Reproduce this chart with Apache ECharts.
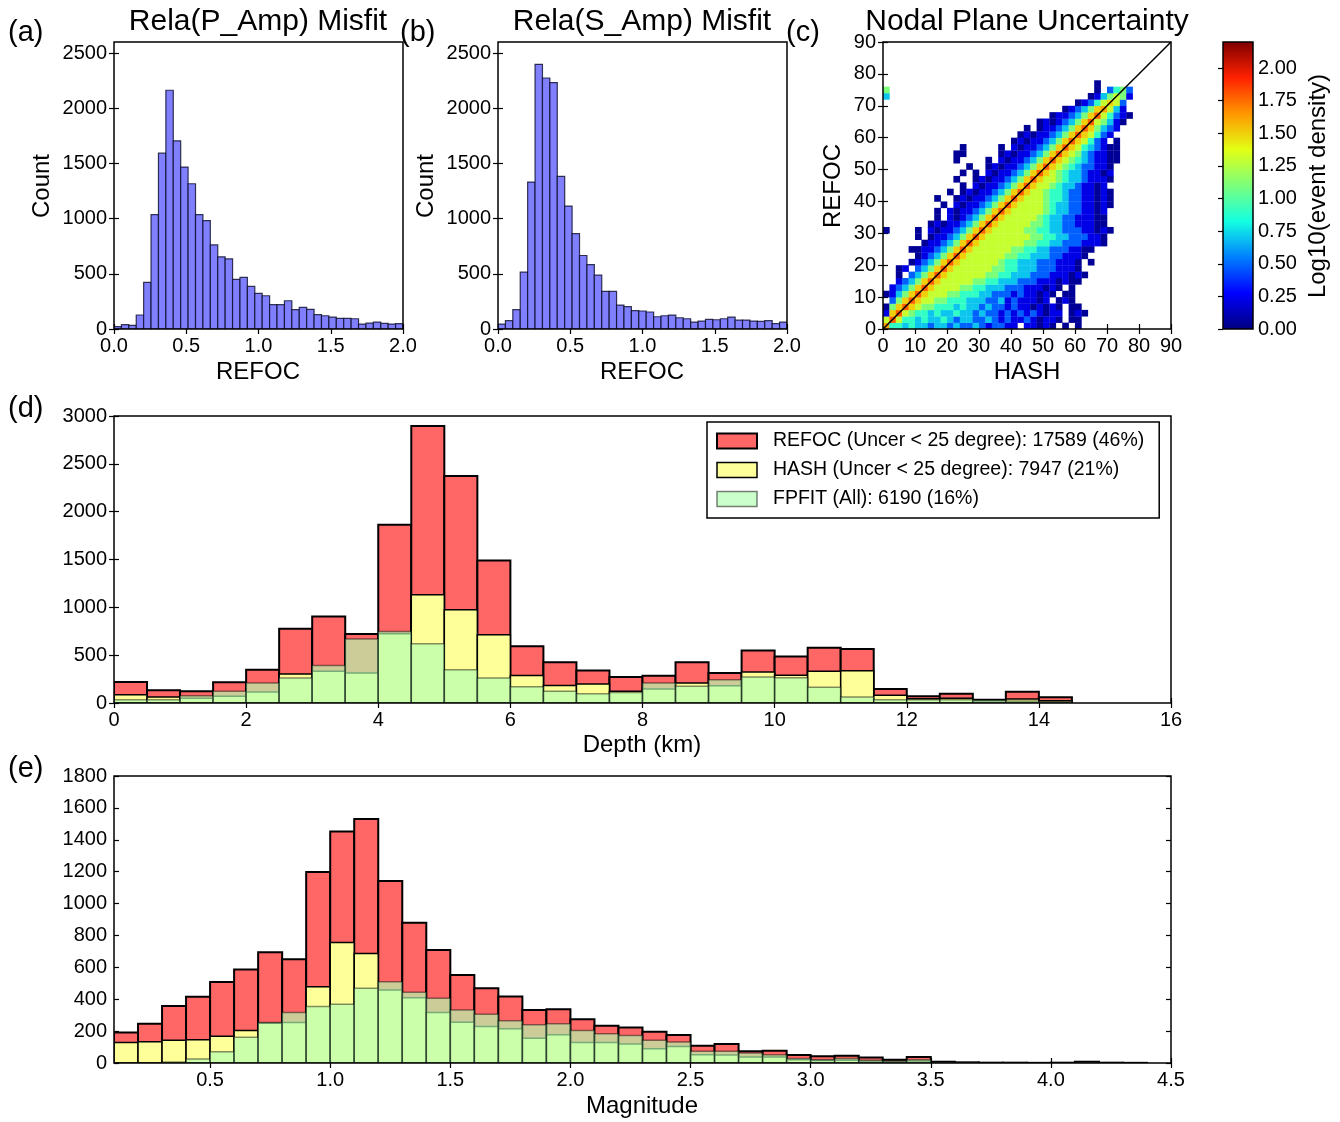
<!DOCTYPE html>
<html><head><meta charset="utf-8">
<script src="https://cdn.jsdelivr.net/npm/echarts@6/dist/echarts.min.js"></script>
<style>html,body{margin:0;padding:0;background:#fff}#c{width:1340px;height:1122px}</style>
</head><body><div id="c"></div>
<script>
// ================= DATA =================
// (a) Rela(P_Amp) Misfit histogram, REFOC, 39 bins over [0, 2]
const pAmpRange = [0, 2.0];
const pAmpCounts = [21,39,33,127,422,1036,1593,2163,1705,1467,1316,1036,982,762,654,636,449,467,386,322,301,220,220,256,175,196,178,130,120,108,96,96,93,45,54,63,51,45,48];
// (b) Rela(S_Amp) Misfit histogram
const sAmpRange = [0, 2.0];
const sAmpCounts = [45,75,175,515,1331,2398,2274,2232,1382,1114,864,666,584,488,340,340,217,202,166,163,154,111,120,126,102,93,63,72,87,84,93,108,81,81,72,69,75,48,63];
const histXTicks = [0, 0.5, 1.0, 1.5, 2.0];
const histYTicks = [0, 500, 1000, 1500, 2000, 2500];
const histYMax = 2600;

// (c) Nodal plane uncertainty density (2-degree cells). Row = REFOC bin, char = HASH bin (spaces ignored),
// digit = index into densityLevels (log10 event density), '.' = empty
const densityCell = 2;
const densityLevels = [0.05, 0.22, 0.48, 0.7, 0.9, 1.1, 1.3, 1.5, 1.62, 1.78];
const densityRows = [
 "84434 33233 23223 21221 1.110 10.0. 0",
 "6 96443 43343 23322 32121 12101 10.00",
 "17 96544 34334 33232 21212 12101 1.010",
 "057 97655 44434 33232 21211 01010 .00",
 ".257 97665 54443 33223 12111 01.01 0",
 "01357 97666 55444 33222 12110 10.00",
 ".1235 7 97666 65544 33322 21110 10.0",
 "..123 57 97666 66554 43332 22111 0100",
 "..0.2 357 97666 66655 44333 22211 1010",
 "..01. 2357 97666 66655 44333 22211 10",
 "....0 12357 97666 66654 43332 22111 0.0",
 "..... 01235 7 97666 66655 44333 22111 0",
 "....0 01123 57 97666 66655 44332 22110 0",
 "..... .0112 357 97666 66665 54433 22211 10",
 "..... 0.011 2357 97666 66665 54433 2221 10",
 "0.... 0.101 12357 97666 66554 43322 21101 0",
 "..... ..010 11235 7 97666 66554 33221 1100",
 "..... ...0. 10123 57 97666 66543 32211 100",
 "..... ...0. 10112 357 97666 66543 32211 01",
 "..... ....0 .1011 2357 97666 65433 22110 10",
 "..... ...0. .0101 12357 97666 54432 21101 0",
 "..... ..... 0.010 11235 7 97665 44322 11010",
 "..... ..... ..0.1 01123 57 97665 43321 101",
 "..... ..... .0..0 10112 357 97665 43321 110",
 "..... ..... ..0.0 .1011 2357 97654 33211 01",
 "..... ..... ...0. .0101 12357 97654 32211 0",
 "..... ..... .0... .0.10 11235 7 97654 32110 0",
 "..... ..... .00.. ...01 01123 57 97653 2110 0",
 "..... ..... ..0.. ...0. 10112 357 97643 2100",
 "..... ..... ..... ..... 01011 2357 97642 1.0",
 "..... ..... ..... ..... .0101 12357 97642 1",
 "..... ..... ..... ..... ..0.0 11235 7 97532 1",
 "..... ..... ..... ..... ....0 10123 57 96531 0",
 "..... ..... ..... ..... ..... .0112 357 96421 0",
 "..... ..... ..... ..... ..... ...01 2357 8631",
 "..... ..... ..... ..... ..... ..... 01246 762",
 "3.... ..... ..... ..... ..... ..... ..013 5 651",
 "5.... ..... ..... ..... ..... ..... ...0. 24 52",
 "..... ..... ..... ..... ..... ..... ...0."
];
const diagLine = [[0, 0], [90, 90]];
const uncTicks = [0, 10, 20, 30, 40, 50, 60, 70, 80, 90];
const colorbarMax = 2.2;
const cbTicks = [0, 0.25, 0.5, 0.75, 1.0, 1.25, 1.5, 1.75, 2.0];

// (d) Depth histograms, bins of 0.5 km starting at 0
const depthBinStart = 0, depthBinWidth = 0.5;
const depthRefoc = [219,132,122,216,348,776,905,720,1862,2895,2373,1489,592,425,341,271,285,425,313,550,487,578,564,146,70,97,35,118,59];
const depthHash  = [87,63,49,70,115,303,331,313,725,1131,974,713,287,184,198,122,146,209,181,324,289,331,338,80,45,49,20,42,24];
const depthFpfit = [35,35,77,122,209,261,393,668,748,619,348,261,170,122,97,111,209,174,244,271,264,164,63,35,35,35,30,21,14];
const depthXTicks = [0, 2, 4, 6, 8, 10, 12, 14, 16];
const depthYTicks = [0, 500, 1000, 1500, 2000, 2500, 3000];

// (e) Magnitude histograms, bins of 0.1 starting at 0.1
const magBinStart = 0.1, magBinWidth = 0.1;
const magRefoc = [192,246,358,415,508,587,694,650,1198,1452,1531,1141,879,708,552,469,417,333,337,275,233,223,196,175,108,119,73,77,50,42,46,35,21,37,8,4,2,2,1,2,8,2,1];
const magHash  = [129,133,142,146,167,204,250,254,479,756,687,458,410,317,256,229,215,156,177,129,129,119,90,104,52,50,37,37,20,15,17,10,6,12,3,1,1,0,0,0,2,0,0];
const magFpfit = [0,0,6,25,71,162,254,317,354,369,469,510,444,406,333,306,265,240,246,204,183,173,142,131,73,73,62,52,29,21,29,17,12,21,5,3,1,1,1,1,5,1,0];
const magXTicks = [0.5, 1.0, 1.5, 2.0, 2.5, 3.0, 3.5, 4.0, 4.5];
const magYTicks = [0, 200, 400, 600, 800, 1000, 1200, 1400, 1600, 1800];

const legendNames = ['REFOC (Uncer < 25 degree): 17589 (46%)', 'HASH (Uncer < 25 degree): 7947 (21%)', 'FPFIT (All): 6190 (16%)'];

// ================= STYLE / LAYOUT =================
const FONT = '"Liberation Sans", Arial, Helvetica, sans-serif';
const jetColors = ['#000080','#0000ff','#0080ff','#14ffe2','#7bff7b','#e2ff14','#ff9700','#ff2100','#800000'];
const redStyle = {fill:'#ff6666', stroke:'#000', lineWidth:2};
const yelStyle = {fill:'#ffff99', stroke:'#000', lineWidth:1.5};
const grnStyle = {fill:'rgba(178,255,178,0.67)', stroke:'rgba(0,0,0,0.45)', lineWidth:1.5};
const blueStyle = {fill:'#8080ff', stroke:'rgba(10,10,40,0.8)', lineWidth:1.2};

const grids = [
  {left:114, top:42, width:289, height:287},   // a
  {left:498, top:42, width:289, height:287},   // b
  {left:883, top:42, width:288, height:287},   // c
  {left:1223, top:42, width:30, height:287},   // colorbar
  {left:114, top:416, width:1057, height:287}, // d
  {left:114, top:776, width:1057, height:287}  // e
].map(g => Object.assign({show:true, borderColor:'#000', borderWidth:1.5, backgroundColor:'transparent', z:10, containLabel:false, outerBoundsMode:'none'}, g));

function axisPair(kind, grid, min, max, ticks, fmt) {
  const common = {type:'value', gridIndex:grid, min:min, max:max,
    splitLine:{show:false}, axisLine:{show:false},
    axisTick:{show:true, inside:true, length:5, customValues:ticks, lineStyle:{color:'#000', width:1.2}}};
  const a1 = Object.assign({}, common, {position: kind==='x'?'bottom':'left',
    axisLabel:{show:true, customValues:ticks, formatter:fmt, margin:7, color:'#000', fontSize:20, fontFamily:FONT}});
  const a2 = Object.assign({}, common, {position: kind==='x'?'top':'right', axisLabel:{show:false}});
  return [a1, a2];
}
const f1 = v => v.toFixed(1), f0 = v => String(Math.round(v)), f2 = v => v.toFixed(2);

const xAxes = [].concat(
  axisPair('x', 0, pAmpRange[0], pAmpRange[1], histXTicks, f1),
  axisPair('x', 1, sAmpRange[0], sAmpRange[1], histXTicks, f1),
  axisPair('x', 2, 0, 90, uncTicks, f0),
  [{type:'value', gridIndex:3, min:0, max:1, show:false}, {type:'value', gridIndex:3, min:0, max:1, show:false, position:'top'}],
  axisPair('x', 4, 0, 16, depthXTicks, f0),
  axisPair('x', 5, 0.1, 4.5, magXTicks, f1)
);
const cbRight = {type:'value', gridIndex:3, min:0, max:colorbarMax, position:'right', splitLine:{show:false}, axisLine:{show:false},
  axisTick:{show:true, inside:true, length:5, customValues:cbTicks, lineStyle:{color:'#000', width:1.2}},
  axisLabel:{show:true, customValues:cbTicks, formatter:f2, margin:5, color:'#000', fontSize:20, fontFamily:FONT}};
const yAxes = [].concat(
  axisPair('y', 0, 0, histYMax, histYTicks, f0),
  axisPair('y', 1, 0, histYMax, histYTicks, f0),
  axisPair('y', 2, 0, 90, uncTicks, f0),
  [{type:'value', gridIndex:3, min:0, max:colorbarMax, show:false}, cbRight],
  axisPair('y', 4, 0, 3000, depthYTicks, f0),
  axisPair('y', 5, 0, 1800, magYTicks, f0)
);

function histSeries(name, grid, start, width, counts, style, z) {
  const data = counts.map((v, i) => [start + i*width, start + (i+1)*width, v]);
  return {type:'custom', name:name, xAxisIndex:grid*2, yAxisIndex:grid*2, z:z||2, data:data,
    encode:{x:[0,1], y:2}, clip:true, silent:true,
    renderItem:(params, api) => {
      if (api.value(2) <= 0) return null;
      const a = api.coord([api.value(0), 0]);
      const b = api.coord([api.value(1), api.value(2)]);
      return {type:'rect', shape:{x:a[0], y:b[1], width:b[0]-a[0], height:a[1]-b[1]}, style:Object.assign({}, style)};
    }};
}

// heat data
const heatData = [];
densityRows.forEach((row, r) => {
  row.replace(/ /g, '').split('').forEach((ch, c) => {
    if (ch !== '.') heatData.push([c*densityCell, r*densityCell, densityLevels[+ch]]);
  });
});

const series = [
  histSeries('pamp', 0, pAmpRange[0], (pAmpRange[1]-pAmpRange[0])/pAmpCounts.length, pAmpCounts, blueStyle),
  histSeries('samp', 1, sAmpRange[0], (sAmpRange[1]-sAmpRange[0])/sAmpCounts.length, sAmpCounts, blueStyle),
  {type:'custom', name:'density', xAxisIndex:4, yAxisIndex:4, data:heatData, encode:{x:0, y:1}, clip:true, silent:true,
    renderItem:(params, api) => {
      const p0 = api.coord([api.value(0), api.value(1)]);
      const p1 = api.coord([api.value(0)+densityCell, api.value(1)+densityCell]);
      return {type:'rect', shape:{x:p0[0], y:p1[1], width:p1[0]-p0[0]+0.3, height:p0[1]-p1[1]+0.3}, style:{fill:api.visual('color')}};
    }},
  {type:'line', name:'diag', xAxisIndex:4, yAxisIndex:4, data:diagLine, symbol:'none', silent:true, z:5,
    lineStyle:{color:'#000', width:1.5}},
  {type:'custom', name:'colorbar', xAxisIndex:6, yAxisIndex:7, data:[[0, 0]], silent:true,
    renderItem:(params, api) => {
      const a = api.coord([0, 0]), b = api.coord([1, colorbarMax]);
      return {type:'rect', shape:{x:a[0], y:b[1], width:b[0]-a[0], height:a[1]-b[1]},
        style:{fill:new echarts.graphic.LinearGradient(0, 1, 0, 0, jetColors.map((c, i) => ({offset:i/(jetColors.length-1), color:c})))}};
    }},
  histSeries(legendNames[0], 4, depthBinStart, depthBinWidth, depthRefoc, redStyle, 2),
  histSeries(legendNames[1], 4, depthBinStart, depthBinWidth, depthHash, yelStyle, 3),
  histSeries(legendNames[2], 4, depthBinStart, depthBinWidth, depthFpfit, grnStyle, 4),
  histSeries(legendNames[0], 5, magBinStart, magBinWidth, magRefoc, redStyle, 2),
  histSeries(legendNames[1], 5, magBinStart, magBinWidth, magHash, yelStyle, 3),
  histSeries(legendNames[2], 5, magBinStart, magBinWidth, magFpfit, grnStyle, 4)
];

function txt(t, x, y, size, opts) {
  opts = opts || {};
  return {type:'text', x:x, y:y, rotation:opts.rot ? Math.PI/2 : 0, z:100,
    style:{text:t, fill:'#000', font: size + 'px ' + FONT, fontSize:size, fontFamily:FONT,
      textAlign:opts.align||'center', textVerticalAlign:'middle', align:opts.align||'center', verticalAlign:'middle'}};
}
const graphics = [
  txt('(a)', 8, 33, 29, {align:'left'}),
  txt('(b)', 400, 33, 29, {align:'left'}),
  txt('(c)', 786, 33, 29, {align:'left'}),
  txt('(d)', 8, 409, 29, {align:'left'}),
  txt('(e)', 8, 769, 29, {align:'left'}),
  txt('Rela(P_Amp) Misfit', 258, 22, 30),
  txt('Rela(S_Amp) Misfit', 642, 22, 30),
  txt('Nodal Plane Uncertainty', 1027, 22, 30),
  txt('REFOC', 258, 372, 24),
  txt('REFOC', 642, 372, 24),
  txt('HASH', 1027, 372, 24),
  txt('Count', 42, 186, 24, {rot:true}),
  txt('Count', 426, 186, 24, {rot:true}),
  txt('REFOC', 833, 186, 24, {rot:true}),
  txt('Log10(event density)', 1318, 186, 24, {rot:true}),
  txt('Depth (km)', 642, 745, 24),
  txt('Magnitude', 642, 1106, 24)
];

const chart = echarts.init(document.getElementById('c'), null, {renderer:'canvas'});
chart.setOption({
  animation:false,
  backgroundColor:'#fff',
  grid:grids,
  xAxis:xAxes,
  yAxis:yAxes,
  visualMap:[{type:'continuous', show:false, seriesIndex:2, dimension:2, min:0, max:colorbarMax, inRange:{color:jetColors}}],
  legend:{show:true, selectedMode:false, orient:'vertical', left:707, top:422,
    backgroundColor:'#fff', borderColor:'#000', borderWidth:1.5, borderRadius:0,
    padding:[8, 15, 8, 9], itemGap:7, itemWidth:40, itemHeight:15, icon:'rect',
    textStyle:{color:'#000', fontSize:19.5, fontFamily:FONT, lineHeight:22, padding:[0,0,0,11]},
    data:[
      {name:legendNames[0], itemStyle:{color:'#ff6666', borderColor:'#000', borderWidth:2}},
      {name:legendNames[1], itemStyle:{color:'#ffff99', borderColor:'#000', borderWidth:1.5}},
      {name:legendNames[2], itemStyle:{color:'rgba(178,255,178,0.67)', borderColor:'rgba(0,0,0,0.5)', borderWidth:1.5}}
    ]},
  graphic:graphics,
  series:series
});
</script>
</body></html>
